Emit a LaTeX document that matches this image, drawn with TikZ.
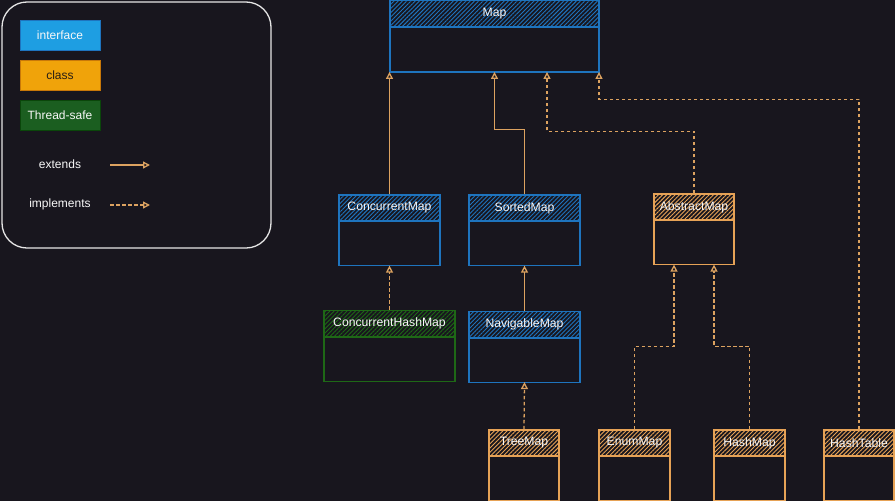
\documentclass[tikz,border=0pt]{standalone}
\usepackage{fontspec}
\setmainfont{Liberation Sans}
\usetikzlibrary{positioning,arrows.meta,patterns.meta}

\definecolor{bgcol}{RGB}{24,22,30}
\definecolor{ifacecol}{RGB}{30,116,190}
\definecolor{classcol}{RGB}{230,162,86}
\definecolor{safecol}{RGB}{30,104,22}
\definecolor{arrowcol}{RGB}{220,162,96}
\definecolor{textcol}{RGB}{248,248,248}
\definecolor{framecol}{RGB}{230,230,230}

\newcommand\boxfont{\fontsize{12.2}{14}\selectfont}
\newcommand\legfont{\fontsize{12}{14}\selectfont}

\begin{document}
\begin{tikzpicture}[x=1pt,y=-1pt,
    head/.style={draw=#1,pattern color=#1,line width=1.2pt,minimum height=26pt,inner sep=0pt,text=textcol,font=\boxfont,
      pattern={Lines[angle=45,distance=3pt,line width=0.9pt]}},
    body/.style={draw=#1,line width=1.2pt,minimum height=44pt,inner sep=0pt,outer sep=0pt},
    legbox/.style={draw,line width=1pt,minimum width=80pt,minimum height=30pt,font=\legfont},
    ext/.style={draw=arrowcol,line width=1.3pt,-{Triangle[open,length=7pt,width=7pt]}},
    impl/.style={ext,dash pattern=on 3.5pt off 2.5pt}]

  % background and legend
  \fill[bgcol] (0,0) rectangle (895,501);
  \useasboundingbox (0,0) rectangle (895,501);
  \draw[framecol,line width=1.3pt,rounded corners=25pt] (2,2) rectangle (271,248);
  \node[legbox,draw=ifacecol,fill={rgb,255:red,30;green,158;blue,226},text=textcol] (leg-iface) at (60,35) {interface};
  \node[legbox,draw={rgb,255:red,200;green,120;blue,8},fill={rgb,255:red,240;green,163;blue,10},text={rgb,255:red,40;green,30;blue,20}] (leg-class) at (60,75) {class};
  \node[legbox,draw={rgb,255:red,10;green,70;blue,10},fill={rgb,255:red,27;green,94;blue,32},text=textcol] (leg-safe) at (60,115) {Thread-safe};
  \node[font=\legfont,text=textcol] (leg-ext) at (60,164) {extends};
  \node[font=\legfont,text=textcol] (leg-impl) at (60,204) {implements};
  \coordinate (ext-a) at (110,165);
  \coordinate (ext-b) at (150,165);
  \coordinate (impl-a) at (110,205);
  \coordinate (impl-b) at (150,205);
  \path[ext] (ext-a) -- (ext-b);
  \path[impl] (impl-a) -- (impl-b);

  % interfaces
  \node[head=ifacecol,minimum width=209pt] (map) at (494.5,13.5) {Map};
  \node[body=ifacecol,minimum width=209pt,minimum height=45pt,below=0pt of map] (mapbody) {};
  \node[head=ifacecol,minimum width=101pt] (cmap) at (389.5,208) {ConcurrentMap};
  \node[body=ifacecol,minimum width=101pt,below=0pt of cmap] (cmapbody) {};
  \node[head=ifacecol,minimum width=111pt] (smap) at (524.5,208) {SortedMap};
  \node[body=ifacecol,minimum width=111pt,below=0pt of smap] (smapbody) {};
  \node[head=ifacecol,minimum width=111pt] (nmap) at (524.5,324.5) {NavigableMap};
  \node[body=ifacecol,minimum width=111pt,below=0pt of nmap] (nmapbody) {};

  % thread-safe
  \node[head=safecol,minimum width=131pt] (chm) at (389.5,323.5) {ConcurrentHashMap};
  \node[body=safecol,minimum width=131pt,below=0pt of chm] (chmbody) {};

  % classes
  \node[head=classcol,minimum width=80pt] (amap) at (694,207) {AbstractMap};
  \node[body=classcol,minimum width=80pt,below=0pt of amap] (amapbody) {};
  \node[head=classcol,minimum width=70pt] (tmap) at (524,443) {TreeMap};
  \node[body=classcol,minimum width=70pt,below=0pt of tmap] (tmapbody) {};
  \node[head=classcol,minimum width=71pt] (emap) at (634.5,443) {EnumMap};
  \node[body=classcol,minimum width=71pt,below=0pt of emap] (emapbody) {};
  \node[head=classcol,minimum width=71pt] (hmap) at (749.5,443) {HashMap};
  \node[body=classcol,minimum width=71pt,below=0pt of hmap] (hmapbody) {};
  \node[head=classcol,minimum width=70pt] (htab) at (859,443) {HashTable};
  \node[body=classcol,minimum width=70pt,below=0pt of htab] (htabbody) {};

  % extends
  \path[ext] (cmap.north) -- (cmap.north |- mapbody.south);
  \path[ext] (smap.north) -- ++(0,-65) -| (mapbody.south);
  \path[ext] (nmap.north) -- (smapbody.south);

  % implements
  \path[impl] (amap.north) -- ++(0,-62) -| ([xshift=52.5pt]mapbody.south);
  \path[impl] (htab.north) -- ++(0,-330) -| (mapbody.south east);
  \path[impl] (chm.north) -- (cmapbody.south);
  \path[impl] (tmap.north) -- (nmapbody.south);
  \path[impl] (emap.north) -- ++(0,-83) -| ([xshift=-20pt]amapbody.south);
  \path[impl] (hmap.north) -- ++(0,-83) -| ([xshift=20pt]amapbody.south);
\end{tikzpicture}
\end{document}
